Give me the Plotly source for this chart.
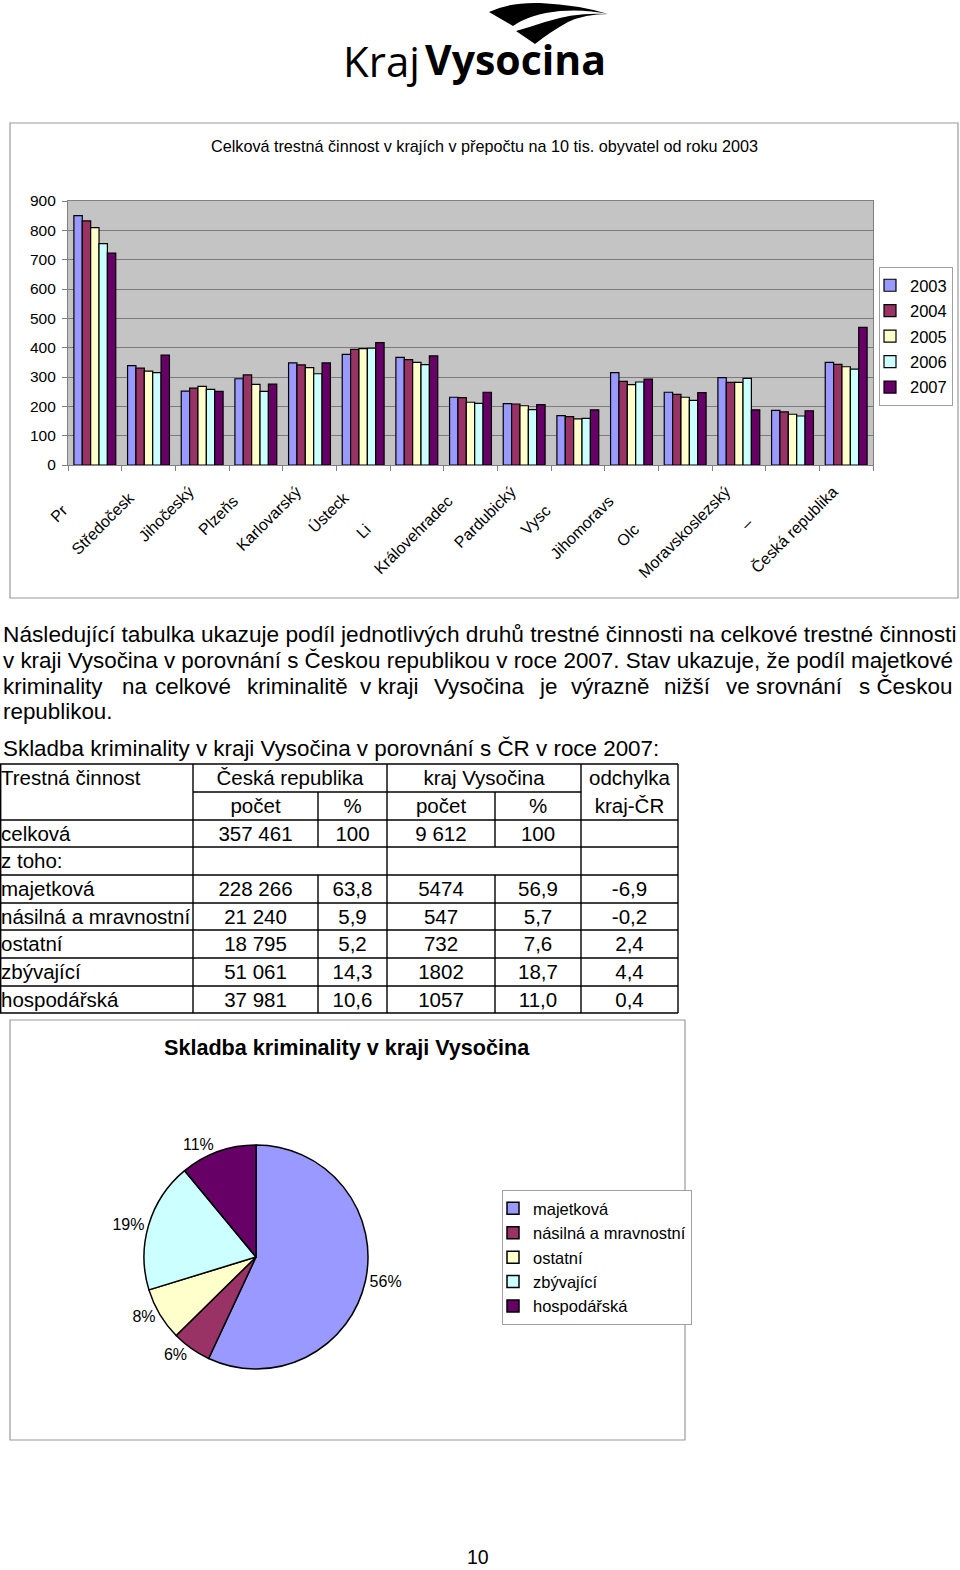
import plotly.graph_objects as go

W, H = 960, 1570

def px(x):
    return x / W

def py(y):
    return 1 - y / H

NB = "\u00a0"

# ---------------- data ----------------
regions = ["Praha", "Středočeský", "Jihočeský", "Plzeňský", "Karlovarský", "Ústecký",
           "Liberecký", "Královéhradecký", "Pardubický", "Vysočina", "Jihomoravský",
           "Olomoucký", "Moravskoslezský", "Zlínský", "Česká republika"]
# visible (clipped) parts of the category labels, as they appear in the chart
region_ticktext = ["Pr", "Středočesk", "Jihočeský", "Plzeňs", "Karlovarský", "Ústeck", "Li",
                   "Královehradec", "Pardubický", "Vysc", "Jihomoravs", "Olc",
                   "Moravskoslezský", "–", "Česká republika"]
# hidden tail length of each clipped label (in non-breaking spaces)
label_tail = [6, 2, 0, 3, 0, 2, 12, 3, 0, 6, 3, 12, 0, 10, 0]
years = ["2003", "2004", "2005", "2006", "2007"]
v2003 = [850, 339, 252, 294, 348, 377, 367, 231, 209, 168, 315, 248, 298, 186, 350]
v2004 = [832, 330, 262, 307, 341, 394, 359, 230, 208, 165, 285, 241, 282, 181, 343]
v2005 = [809, 320, 268, 275, 332, 397, 350, 214, 202, 157, 274, 231, 282, 173, 335]
v2006 = [755, 315, 258, 251, 311, 398, 342, 210, 189, 159, 283, 220, 295, 167, 327]
v2007 = [722, 375, 251, 276, 348, 417, 372, 248, 206, 188, 293, 247, 188, 185, 469]
series = [v2003, v2004, v2005, v2006, v2007]
colors = ["#9999FF", "#993366", "#FFFFCC", "#CCFFFF", "#660066"]

y_ticks = [0, 100, 200, 300, 400, 500, 600, 700, 800, 900]

# table
tbl_header1 = ["Trestná činnost", "Česká republika", "kraj Vysočina", "odchylka"]
tbl_header2 = ["počet", "%", "počet", "%", "kraj-ČR"]
crime_types = ["celková", "z toho:", "majetková", "násilná a mravnostní", "ostatní",
               "zbývající", "hospodářská"]
cr_count = ["357 461", "", "228 266", "21 240", "18 795", "51 061", "37 981"]
cr_pct = ["100", "", "63,8", "5,9", "5,2", "14,3", "10,6"]
kv_count = ["9 612", "", "5474", "547", "732", "1802", "1057"]
kv_pct = ["100", "", "56,9", "5,7", "7,6", "18,7", "11,0"]
diff_pct = ["", "", "-6,9", "-0,2", "2,4", "4,4", "0,4"]

# pie
pie_labels = ["majetková", "násilná a mravnostní", "ostatní", "zbývající", "hospodářská"]
pie_values = [5474, 547, 732, 1802, 1057]
pie_text = ["56%", "6%", "8%", "19%", "11%"]

paragraph = [
    "Následující tabulka ukazuje podíl jednotlivých druhů trestné činnosti na celkové trestné činnosti",
    "v kraji Vysočina v porovnání s Českou republikou v roce 2007. Stav ukazuje, že podíl majetkové",
]
line3_words = ["kriminality", "na", "celkové", "kriminalitě", "v kraji", "Vysočina", "je",
               "výrazně", "nižší", "ve", "srovnání", "s Českou"]
line3_x = [2, 121, 154, 246, 359, 433, 538, 570, 663, 725, 755, 858]
line4 = "republikou."
subtitle = "Skladba kriminality v kraji Vysočina v porovnání s ČR v roce 2007:"

FONT = "Liberation Sans, Arial, Helvetica, sans-serif"

fig = go.Figure()

# ---------------- bar chart ----------------
for yr, vals, col in zip(years, series, colors):
    fig.add_trace(go.Bar(
        x=regions, y=vals, name=yr, legendgroup=yr,
        marker=dict(color=col, line=dict(color="black", width=1.2)),
        xaxis="x", yaxis="y", legend="legend",
    ))

tick_labels = [t + NB * n for t, n in zip(region_ticktext, label_tail)]

# ---------------- table (pixel axis x2/y2) ----------------
col_edges = [0, 193, 318, 387, 495, 581, 678]
row_edges = [764, 792, 820, 847, 875, 903, 930, 958, 986, 1013]
TXT_DY = 2
row_mid = [(row_edges[i] + row_edges[i + 1]) / 2 + TXT_DY for i in range(2, 9)]
col_mid = [(col_edges[i] + col_edges[i + 1]) / 2 for i in range(1, 6)]
h1y = (row_edges[0] + row_edges[1]) / 2 + TXT_DY
h2y = (row_edges[1] + row_edges[2]) / 2 + TXT_DY

tfont = dict(family=FONT, size=20.5, color="black")

fig.add_trace(go.Scatter(
    x=[1, (col_edges[1] + col_edges[3]) / 2, (col_edges[3] + col_edges[5]) / 2, col_mid[4]],
    y=[h1y] * 4, text=tbl_header1, mode="text",
    textposition=["middle right", "middle center", "middle center", "middle center"],
    textfont=tfont, xaxis="x2", yaxis="y2", showlegend=False, hoverinfo="skip"))
fig.add_trace(go.Scatter(
    x=col_mid, y=[h2y] * 5, text=tbl_header2, mode="text", textposition="middle center",
    textfont=tfont, xaxis="x2", yaxis="y2", showlegend=False, hoverinfo="skip"))
fig.add_trace(go.Scatter(
    x=[1] * len(crime_types), y=row_mid, text=crime_types, mode="text",
    textposition="middle right", textfont=tfont, xaxis="x2", yaxis="y2",
    showlegend=False, hoverinfo="skip"))
for ci, colvals in enumerate([cr_count, cr_pct, kv_count, kv_pct, diff_pct]):
    fig.add_trace(go.Scatter(
        x=[col_mid[ci]] * len(colvals), y=row_mid, text=colvals, mode="text",
        textposition="middle center", textfont=tfont, xaxis="x2", yaxis="y2",
        showlegend=False, hoverinfo="skip"))

# ---------------- pie ----------------
pie_cx, pie_cy, pie_half = 256, 1257, 112
fig.add_trace(go.Pie(
    labels=pie_labels, values=pie_values, text=pie_text, textinfo="text",
    textposition="outside", sort=False, direction="clockwise", rotation=0,
    marker=dict(colors=colors, line=dict(color="black", width=1.5)),
    textfont=dict(family=FONT, size=16, color="black"),
    domain=dict(x=[px(pie_cx - pie_half), px(pie_cx + pie_half)],
                y=[py(pie_cy + pie_half), py(pie_cy - pie_half)]),
    legend="legend2", hoverinfo="skip", showlegend=True,
))

shapes = []
LINE = dict(color="black", width=1.4)
for i, y in enumerate(row_edges):
    if i == 1:
        shapes.append(dict(type="line", xref="x2", yref="y2", x0=col_edges[1], x1=col_edges[5],
                           y0=y, y1=y, line=LINE))
    else:
        shapes.append(dict(type="line", xref="x2", yref="y2", x0=col_edges[0], x1=col_edges[6],
                           y0=y, y1=y, line=LINE))
for j, x in enumerate(col_edges):
    if j in (2, 4):
        shapes.append(dict(type="line", xref="x2", yref="y2", x0=x, x1=x,
                           y0=row_edges[1], y1=row_edges[3], line=LINE))
        shapes.append(dict(type="line", xref="x2", yref="y2", x0=x, x1=x,
                           y0=row_edges[4], y1=row_edges[-1], line=LINE))
    else:
        xx = x + 0.7 if j == 0 else x
        shapes.append(dict(type="line", xref="x2", yref="y2", x0=xx, x1=xx,
                           y0=row_edges[0], y1=row_edges[-1], line=LINE))

FRAME = dict(color="#9a9a9a", width=1.2)
shapes.append(dict(type="rect", xref="x2", yref="y2", x0=10, x1=958, y0=123, y1=598, line=FRAME))
shapes.append(dict(type="rect", xref="x2", yref="y2", x0=10, x1=685, y0=1020, y1=1440, line=FRAME))
shapes.append(dict(type="rect", xref="x domain", yref="y domain", x0=0, x1=1, y0=0, y1=1,
                   fillcolor="#C4C4C4", line=dict(width=0), layer="below"))
# logo swoosh
shapes.append(dict(type="path", xref="x2", yref="y2", fillcolor="black", line=dict(width=0),
                   path="M 489 12 Q 510 2 540 3 Q 580 5 608 14 Q 585 9 560 11 Q 530 14 513 26 Z"))
shapes.append(dict(type="path", xref="x2", yref="y2", fillcolor="black", line=dict(width=0),
                   path="M 516 31 Q 530 27 545 22 Q 575 12 608 14 Q 585 14 568 22 Q 550 32 535 44 Z"))

annotations = []
annotations.append(dict(x=px(484), y=py(146), xref="paper", yref="paper",
                        text="Celková trestná činnost v krajích v přepočtu na 10 tis. obyvatel od roku 2003",
                        showarrow=False, font=dict(family=FONT, size=16.2, color="black"),
                        xanchor="center", yanchor="middle"))
PFONT = dict(family=FONT, size=22.4, color="black")
for i, line in enumerate(paragraph):
    f = dict(PFONT, size=22.7) if i == 0 else PFONT
    annotations.append(dict(x=px(1), y=py(634 + 26 * i), xref="paper", yref="paper", text=line,
                            showarrow=False, font=f, xanchor="left", yanchor="middle"))
for w, xw in zip(line3_words, line3_x):
    annotations.append(dict(x=px(xw - 1), y=py(686), xref="paper", yref="paper", text=w,
                            showarrow=False, font=PFONT, xanchor="left", yanchor="middle"))
annotations.append(dict(x=px(1), y=py(711.5), xref="paper", yref="paper", text=line4,
                        showarrow=False, font=PFONT, xanchor="left", yanchor="middle"))
annotations.append(dict(x=px(1), y=py(748), xref="paper", yref="paper", text=subtitle,
                        showarrow=False, font=PFONT, xanchor="left", yanchor="middle"))
annotations.append(dict(x=px(347), y=py(1047), xref="paper", yref="paper",
                        text="<b>Skladba kriminality v kraji Vysočina</b>", showarrow=False,
                        font=dict(family=FONT, size=21.6, color="black"),
                        xanchor="center", yanchor="middle"))
annotations.append(dict(x=px(478), y=py(1557), xref="paper", yref="paper", text="10",
                        showarrow=False, font=dict(family=FONT, size=19.5, color="black"),
                        xanchor="center", yanchor="middle"))
annotations.append(dict(x=px(341), y=py(61), xref="paper", yref="paper", text="Kraj",
                        showarrow=False, font=dict(family="Open Sans, sans-serif", size=42,
                                                   color="black"),
                        xanchor="left", yanchor="middle"))
annotations.append(dict(x=px(423), y=py(59), xref="paper", yref="paper", text="<b>Vysocina</b>",
                        showarrow=False, font=dict(family="Open Sans, sans-serif", size=41,
                                                   color="black"),
                        xanchor="left", yanchor="middle"))

fig.update_layout(
    width=W, height=H, margin=dict(l=0, r=0, t=0, b=0, autoexpand=False),
    paper_bgcolor="white", plot_bgcolor="rgba(0,0,0,0)",
    font=dict(family=FONT, color="black"),
    barmode="group", bargap=0.22, bargroupgap=0,
    xaxis=dict(domain=[px(68), px(873)], anchor="y", type="category", automargin=False,
               tickmode="array", tickvals=regions, ticktext=tick_labels,
               tickangle=-45, tickson="boundaries", ticks="outside", ticklen=5,
               ticklabelstandoff=10, ticklabelshift=-13,
               tickcolor="#808080", showline=True, linecolor="#808080", linewidth=1.2,
               mirror=True, tickfont=dict(family=FONT, size=16, color="black"),
               showgrid=False, fixedrange=True),
    yaxis=dict(domain=[py(465), py(201)], anchor="x", range=[0, 900], automargin=False,
               tickvals=y_ticks, ticks="outside", ticklen=5, tickcolor="#808080",
               ticklabelstandoff=3,
               showline=True, linecolor="#808080", linewidth=1.2, mirror=True,
               showgrid=True, gridcolor="#7a7a7a", gridwidth=1, zeroline=False,
               tickfont=dict(family=FONT, size=15.5, color="black"), fixedrange=True),
    xaxis2=dict(domain=[0, 1], anchor="y2", range=[0, W], visible=False, fixedrange=True,
                automargin=False),
    yaxis2=dict(domain=[0, 1], anchor="x2", range=[H, 0], visible=False, fixedrange=True,
                automargin=False),
    legend=dict(x=px(953), y=py(267), xanchor="right", yanchor="top",
                bgcolor="white", bordercolor="#a0a0a0", borderwidth=1,
                font=dict(family=FONT, size=16.5, color="black"),
                traceorder="grouped", tracegroupgap=1, itemwidth=30, indentation=-10),
    legend2=dict(x=px(502), y=py(1190), xanchor="left", yanchor="top",
                 bgcolor="white", bordercolor="#a0a0a0", borderwidth=1,
                 font=dict(family=FONT, size=16.5, color="black"), itemwidth=30,
                 indentation=-10),
    shapes=shapes, annotations=annotations,
)

fig.write_html("out.html", config={"displayModeBar": False},
               post_script="document.body.style.margin='0';document.body.style.overflow='hidden';")
